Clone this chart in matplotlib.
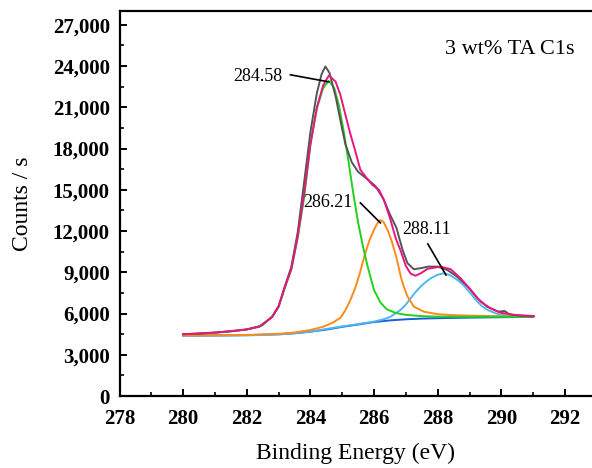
import matplotlib
matplotlib.use("Agg")
import matplotlib.pyplot as plt
from matplotlib.ticker import MultipleLocator, FuncFormatter

# ---------------- data ----------------
raw_E = [280.0, 280.5, 281.0, 281.5, 282.0, 282.4, 282.8, 283.0, 283.2, 283.4, 283.6, 283.8,
         284.0, 284.2, 284.35, 284.47, 284.6, 284.8, 284.95, 285.1, 285.3, 285.5, 285.8, 286.05,
         286.3, 286.5, 286.7, 286.9, 287.05, 287.25, 287.45, 287.7, 288.0, 288.3, 288.6, 288.95,
         289.25, 289.55, 289.9, 290.1, 290.25, 290.6, 291.0]
raw_C = [4500, 4530, 4620, 4700, 4850, 5050, 5750, 6500, 8000, 9400, 11900, 15500,
         19200, 22000, 23400, 23965, 23500, 21700, 19950, 18300, 17000, 16300, 15750, 15250,
         14300, 13200, 12250, 10600, 9660, 9220, 9290, 9410, 9410, 9170, 8700, 7950,
         7110, 6500, 6135, 6185, 5945, 5845, 5780]

env_E = [280.0, 281.0, 282.0, 282.4, 282.8, 283.0, 283.2, 283.4, 283.6, 283.8, 284.0, 284.2,
         284.4, 284.58, 284.79, 284.94, 285.1, 285.25, 285.4, 285.57, 285.75, 285.95, 286.15,
         286.31, 286.5, 286.68, 286.83, 287.0, 287.15, 287.3, 287.45, 287.68, 288.09, 288.41,
         288.72, 289.04, 289.35, 289.66, 289.98, 290.4, 291.02]
env_C = [4490, 4610, 4840, 5050, 5760, 6550, 7950, 9250, 11600, 14700, 18300, 20950,
         22600, 23310, 22870, 21905, 20450, 19100, 17900, 16450, 15900, 15350, 15000,
         14265, 12950, 11475, 10600, 9450, 8900, 8750, 8900, 9250, 9410, 9220,
         8560, 7715, 6860, 6380, 6060, 5895, 5820]

bg_E = [280.0, 281.0, 282.0, 282.5, 283.0, 283.5, 284.0, 284.5, 285.0, 285.5, 286.0, 286.5,
        287.0, 287.5, 288.0, 288.5, 289.0, 289.5, 290.0, 290.5, 291.0]
bg_C = [4400, 4410, 4430, 4460, 4500, 4560, 4680, 4830, 5030, 5200, 5380, 5500,
        5580, 5630, 5660, 5680, 5700, 5715, 5730, 5745, 5760]

c1_E = [280.0, 281.0, 282.0, 282.5, 282.8, 283.0, 283.2, 283.4, 283.6, 283.8, 284.0, 284.2,
        284.4, 284.58, 284.75, 284.9, 285.05, 285.2, 285.35, 285.5, 285.65, 285.8, 286.0,
        286.2, 286.4, 286.7, 287.0, 287.5, 288.0, 289.0, 290.0, 291.0]
c1_C = [4490, 4600, 4830, 5150, 5800, 6500, 7900, 9200, 11500, 14400, 18300, 20900,
        22400, 22920, 22400, 21100, 19200, 17000, 14700, 12600, 10900, 9400, 7700,
        6800, 6300, 6030, 5900, 5810, 5770, 5760, 5760, 5765]

c2_E = [280.0, 281.0, 282.0, 283.0, 283.5, 284.0, 284.4, 284.7, 284.95, 285.1, 285.25, 285.4,
        285.55, 285.7, 285.85, 286.0, 286.1, 286.2, 286.3, 286.42, 286.55, 286.7, 286.85,
        286.95, 287.05, 287.25, 287.57, 288.0, 288.5, 289.14, 290.0, 291.0]
c2_C = [4400, 4410, 4440, 4520, 4620, 4800, 5040, 5330, 5700, 6250, 6950, 7800,
        8900, 10200, 11300, 12100, 12550, 12800, 12650, 12100, 11300, 10100, 8600,
        7850, 7250, 6500, 6130, 5950, 5880, 5840, 5800, 5790]

c3_E = [280.0, 281.0, 282.0, 283.0, 284.0, 284.94, 285.5, 285.99, 286.3, 286.52, 286.83, 287.0,
        287.15, 287.3, 287.46, 287.62, 287.78, 288.0, 288.2, 288.4, 288.62, 288.8, 288.94,
        289.1, 289.25, 289.4, 289.57, 289.75, 289.88, 290.1, 290.4, 290.7, 291.0]
c3_C = [4380, 4390, 4410, 4470, 4680, 5045, 5230, 5410, 5580, 5770, 6260, 6650,
        7110, 7550, 7950, 8280, 8560, 8820, 8930, 8780, 8440, 8100, 7715,
        7280, 6860, 6520, 6260, 6080, 5970, 5880, 5820, 5790, 5770]

peak_labels = ["284.58", "286.21", "288.11"]
peak_tip = [(284.57, 22850), (286.2, 12590), (288.26, 8800)]
label_xy = [(282.35, 23215), (284.55, 14045), (287.65, 12080)]
leader_start = [(283.37, 23360), (285.57, 14045), (287.69, 11060)]
title_text = "3 wt% TA C1s"

# ---------------- figure ----------------
plt.rcParams['font.family'] = ['Liberation Serif', 'DejaVu Serif']
fig = plt.figure(figsize=(5.92, 4.68), dpi=100)
ax = fig.add_axes([0.2019, 0.1538, 0.7981, 0.8227])

lw = 1.4
ax.plot(bg_E, bg_C, color='#1a5fd6', lw=lw, zorder=2)
ax.plot(c3_E, c3_C, color='#4db8f2', lw=lw, zorder=3)
ax.plot(c2_E, c2_C, color='#ff8a1c', lw=lw, zorder=3)
ax.plot(c1_E, c1_C, color='#1ed21e', lw=lw, zorder=4)
ax.plot(raw_E, raw_C, color='#555555', lw=lw, zorder=5)
ax.plot(env_E, env_C, color='#e8167e', lw=lw, zorder=6)

ax.set_xlim(278, 292.85)
ax.set_ylim(0, 28000)
ax.xaxis.set_major_locator(MultipleLocator(2))
ax.xaxis.set_minor_locator(MultipleLocator(1))
ax.yaxis.set_major_locator(MultipleLocator(3000))
ax.yaxis.set_minor_locator(MultipleLocator(1500))
ax.yaxis.set_major_formatter(FuncFormatter(lambda v, p: f"{int(v):,}"))

for s in ['left', 'bottom', 'top']:
    ax.spines[s].set_linewidth(1.6)
ax.spines['right'].set_visible(False)
ax.tick_params(axis='both', which='major', labelsize=15, width=1.4, length=5, direction='in')
ax.tick_params(axis='both', which='minor', width=1.2, length=3, direction='in')
ax.tick_params(axis='x', pad=9)
ax.tick_params(axis='y', pad=7)
for lab in ax.get_xticklabels() + ax.get_yticklabels():
    lab.set_fontweight('bold')

ax.set_xlabel("Binding Energy (eV)", fontsize=17, labelpad=10)
ax.set_ylabel("Counts / s", fontsize=17, labelpad=14)

ax.text(0.964, 0.899, title_text, transform=ax.transAxes, fontsize=16, ha='right', va='center')

for lab, (tx, ty), (sx, sy), (px, py) in zip(peak_labels, label_xy, leader_start, peak_tip):
    ax.text(tx, ty, lab, fontsize=13, ha='center', va='center')
    ax.plot([sx, px], [sy, py], color='black', lw=1.2, zorder=7)

fig.savefig("out.png", dpi=100)
